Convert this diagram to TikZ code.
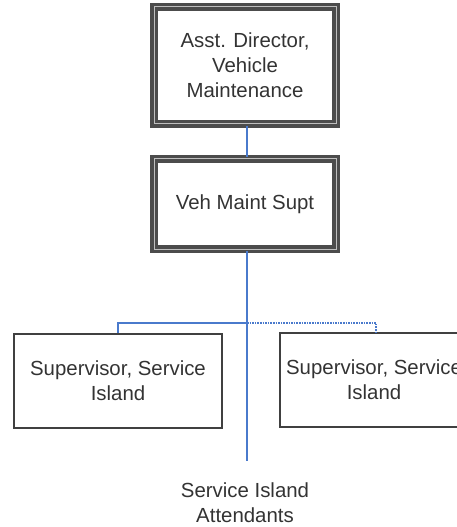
\documentclass[tikz,border=0pt]{standalone}
\usepackage{fontspec}
\setmainfont{Liberation Sans}
\definecolor{linkblue}{RGB}{74,122,204}
\begin{document}
\begin{tikzpicture}[x=1bp,y=-1bp,
  txt/.style={font=\fontsize{20.4bp}{25bp}\selectfont, text=black!80, align=center},
  headbox/.style={txt, draw=black!70, line width=3.2bp, double=black!25, double distance=1bp, inner sep=0pt},
  unitbox/.style={txt, draw=black!75, line width=2bp, inner sep=0pt},
  link/.style={draw=linkblue, line width=2bp},
  dotlink/.style={link, line width=1.6bp, densely dotted}]
  \useasboundingbox (0,0) rectangle (457,527);
  \clip (0,0) rectangle (457,527);

  % management chain
  \node[headbox, minimum width=182bp, minimum height=117bp] (dir) at (245,65.5)
    {Asst. Director,\\Vehicle\\Maintenance};
  \node[headbox, minimum width=182bp, minimum height=90bp] (supt) at (245,204)
    {Veh Maint Supt};

  % service island supervisors
  \node[unitbox, minimum width=207bp, minimum height=94bp] (supA) at (118,380.5)
    {Supervisor, Service\\Island};
  \node[unitbox, minimum width=188bp, minimum height=94bp] (supB) at (374,380)
    {Supervisor, Service\\Island};

  % attendants
  \node[txt] (att) at (245,503) {Service Island\\Attendants};

  % connectors
  \coordinate (bus) at (247,323);
  \coordinate (attend) at (247,461);
  \draw[link] (dir.south -| bus) -- (supt.north -| bus);
  \draw[link] (supt.south -| bus) -- (attend);
  \draw[link] (bus) -| (supA.north);
  \draw[dotlink] (bus) -| ([xshift=2bp]supB.north);
\end{tikzpicture}
\end{document}
